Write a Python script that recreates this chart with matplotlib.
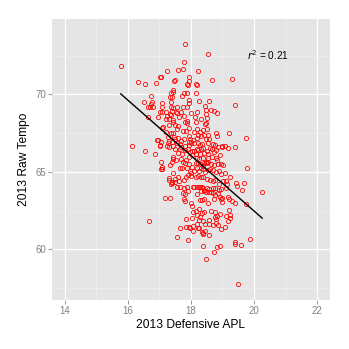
import matplotlib
matplotlib.use("Agg")
import matplotlib.pyplot as plt
import numpy as np

plt.rcParams['font.family'] = ['Liberation Sans', 'DejaVu Sans']

# defensive average possession length vs raw tempo, 2013 season
apl = [
    17.81, 18.55, 17.77, 15.78, 17.74, 17.59, 17.23, 18.24, 19.29, 17.94,
    17.02, 17.05, 17.50, 17.46, 16.32, 16.88, 16.56, 17.95, 18.68, 18.17,
    18.18, 17.92, 17.89, 17.43, 17.44, 17.38, 17.77, 17.89, 18.17, 16.75,
    17.72, 17.34, 17.39, 16.51, 16.78, 18.27, 18.59, 17.95, 19.40, 17.37,
    17.94, 17.09, 16.63, 16.71, 16.81, 16.73, 17.08, 17.38, 17.44, 17.57,
    17.75, 17.89, 18.46, 18.47, 18.63, 18.74, 18.82, 17.08, 17.02, 17.20,
    17.26, 17.33, 17.37, 17.56, 17.40, 17.52, 17.61, 17.70, 17.78, 18.00,
    18.18, 18.49, 18.50, 16.63, 16.97, 17.21, 17.32, 17.43, 17.44, 17.82,
    17.89, 18.13, 18.16, 18.32, 18.49, 17.12, 17.30, 17.51, 17.60, 17.87,
    18.46, 18.50, 17.10, 17.20, 17.38, 17.45, 17.57, 17.74, 17.86, 17.95,
    18.10, 18.20, 18.30, 18.40, 18.24, 18.33, 18.41, 18.53, 18.80, 18.84,
    19.22, 19.74, 17.28, 17.46, 17.50, 17.60, 17.77, 17.94, 17.98, 18.06,
    18.21, 18.48, 18.58, 17.29, 17.31, 17.40, 17.56, 17.65, 17.70, 17.83,
    17.93, 17.93, 18.02, 18.11, 18.24, 18.29, 18.35, 18.55, 18.70, 18.78,
    18.98, 19.08, 19.19, 19.40, 19.00, 16.12, 16.56, 16.86, 16.94, 16.97,
    17.03, 17.05, 17.01, 17.25, 17.31, 17.45, 17.49, 17.66, 17.70, 17.82,
    17.90, 17.97, 18.03, 18.10, 18.19, 18.24, 18.32, 18.40, 18.41, 18.52,
    18.60, 18.66, 18.73, 18.80, 18.87, 18.92, 18.55, 18.29, 18.15, 17.94,
    18.04, 18.18, 18.27, 18.39, 18.47, 18.55, 18.68, 18.79, 18.84, 18.85,
    17.60, 17.72, 17.44, 17.44, 17.52, 17.41, 17.70, 17.74, 17.81, 17.86,
    17.94, 18.03, 18.16, 18.24, 18.32, 18.41, 18.50, 18.55, 18.65, 18.72,
    18.97, 19.02, 17.07, 17.08, 17.05, 17.10, 17.33, 17.45, 17.65, 17.71,
    17.87, 17.96, 18.00, 18.10, 18.18, 18.25, 18.31, 18.37, 18.40, 18.46,
    18.55, 18.61, 18.70, 18.81, 18.90, 18.95, 19.09, 19.78, 17.32, 17.30,
    17.41, 17.51, 17.59, 17.64, 17.77, 17.84, 17.90, 18.00, 18.17, 18.24,
    18.33, 18.39, 18.50, 18.60, 18.70, 18.77, 18.88, 19.02, 19.13, 19.23,
    19.42, 19.45, 19.69, 17.37, 17.40, 17.50, 17.56, 17.65, 17.77, 17.89,
    18.08, 18.11, 18.19, 18.25, 18.30, 18.34, 18.40, 18.43, 18.50, 18.57,
    18.63, 18.71, 18.78, 18.88, 18.97, 19.11, 19.14, 19.62, 17.74, 17.81,
    17.92, 18.18, 18.33, 18.41, 18.47, 18.59, 18.71, 18.78, 18.85, 18.91,
    18.99, 19.19, 19.20, 19.29, 19.40, 20.26, 17.17, 17.33, 17.79, 17.83,
    18.29, 18.34, 18.42, 18.54, 18.94, 18.98, 18.72, 19.76, 18.01, 18.03,
    18.07, 18.17, 18.27, 18.34, 18.42, 18.63, 18.78, 18.84, 18.93, 19.13,
    19.21, 19.24, 17.86, 18.03, 18.19, 18.25, 18.30, 18.39, 18.57, 18.76,
    18.81, 19.24, 19.17, 16.67, 18.19, 18.23, 18.07, 17.96, 18.07, 18.26,
    18.44, 18.57, 18.69, 18.79, 18.87, 19.09, 17.67, 17.84, 17.94, 18.34,
    18.39, 18.44, 18.95, 17.56, 17.90, 18.38, 18.58, 19.39, 19.41, 19.59,
    19.89, 18.37, 18.84, 18.92, 18.73, 18.49, 19.48,
]
tempo = [
    73.27, 72.62, 72.09, 71.85, 71.66, 71.59, 71.53, 71.53, 70.99, 71.12,
    71.10, 71.10, 70.92, 70.86, 70.77, 70.73, 70.69, 70.88, 70.90, 70.67,
    70.58, 70.60, 70.65, 70.28, 70.17, 70.06, 70.06, 70.06, 70.06, 69.87,
    69.87, 69.85, 69.85, 69.51, 69.51, 69.59, 69.59, 69.63, 69.33, 69.53,
    69.46, 69.42, 69.20, 69.20, 69.18, 69.35, 69.20, 69.20, 69.12, 69.16,
    69.16, 69.20, 69.25, 68.99, 68.97, 68.92, 68.82, 68.84, 68.84, 68.84,
    68.62, 68.75, 68.67, 68.77, 68.95, 68.84, 68.56, 68.84, 68.58, 68.80,
    68.84, 68.73, 68.45, 68.52, 68.56, 68.39, 68.41, 68.34, 68.19, 68.24,
    68.30, 68.52, 68.24, 68.39, 68.17, 67.87, 68.02, 68.02, 67.98, 68.13,
    68.09, 67.76, 67.81, 67.57, 67.53, 67.48, 67.74, 67.63, 67.66, 67.81,
    67.59, 67.74, 67.59, 67.70, 67.38, 67.31, 67.38, 67.38, 67.48, 67.33,
    67.51, 67.20, 67.27, 67.27, 67.10, 67.16, 67.10, 67.33, 67.14, 67.05,
    67.16, 67.10, 67.14, 66.84, 66.99, 66.92, 66.88, 66.80, 66.99, 66.67,
    66.75, 66.92, 66.88, 66.88, 66.88, 66.73, 66.80, 66.84, 66.80, 66.73,
    66.69, 66.67, 66.52, 66.58, 66.62, 66.65, 66.37, 66.15, 67.05, 67.03,
    66.67, 66.90, 66.73, 66.69, 66.62, 66.69, 66.49, 66.47, 66.62, 66.43,
    66.47, 66.28, 66.37, 66.32, 66.47, 66.43, 66.45, 66.54, 66.24, 66.37,
    66.52, 66.47, 66.30, 66.41, 66.58, 66.09, 66.15, 66.15, 66.15, 65.98,
    66.06, 65.87, 65.85, 65.87, 65.66, 65.87, 65.98, 65.91, 65.76, 65.48,
    66.19, 66.15, 65.96, 65.81, 65.78, 65.61, 65.81, 65.61, 65.55, 65.76,
    65.48, 65.33, 65.59, 65.59, 65.53, 65.59, 65.55, 65.66, 65.48, 65.46,
    65.48, 65.42, 65.63, 65.33, 65.20, 65.20, 65.42, 64.92, 65.27, 65.23,
    65.27, 65.05, 64.90, 65.08, 65.27, 65.05, 65.27, 65.16, 65.38, 65.01,
    65.12, 65.18, 65.12, 65.01, 65.05, 64.88, 64.90, 65.27, 64.58, 64.47,
    64.34, 64.52, 64.67, 64.43, 64.47, 64.67, 64.82, 64.75, 64.69, 64.75,
    64.65, 64.69, 64.54, 64.47, 64.41, 64.47, 64.19, 64.41, 64.39, 64.69,
    64.28, 64.11, 64.30, 64.19, 64.28, 64.37, 64.04, 64.02, 63.94, 64.04,
    64.00, 64.04, 64.04, 64.00, 64.04, 64.04, 63.98, 63.83, 63.98, 63.89,
    63.72, 63.96, 63.94, 63.83, 63.87, 63.94, 64.19, 63.81, 63.61, 63.57,
    63.74, 63.55, 63.76, 63.76, 63.72, 63.70, 63.63, 63.48, 63.61, 63.40,
    63.33, 63.40, 63.23, 63.10, 63.01, 63.68, 63.33, 63.33, 63.25, 63.12,
    63.16, 63.18, 63.23, 62.97, 63.25, 63.08, 63.27, 62.95, 62.97, 62.77,
    62.43, 62.49, 62.58, 62.32, 62.39, 62.45, 62.39, 62.17, 62.26, 62.15,
    62.54, 62.22, 61.96, 62.02, 62.24, 61.89, 62.11, 61.81, 61.89, 62.09,
    61.98, 62.02, 61.85, 61.83, 61.63, 61.40, 61.53, 61.38, 61.20, 61.35,
    61.61, 61.63, 61.57, 61.72, 61.59, 61.44, 61.38, 61.42, 61.44, 61.10,
    61.03, 61.18, 61.31, 60.80, 60.62, 60.99, 60.92, 60.45, 60.37, 60.28,
    60.67, 60.19, 60.17, 60.22, 59.81, 59.40, 57.74,
]
r2_label = r'$r^2$ = 0.21'

x = np.array(apl)
y = np.array(tempo)

fig = plt.figure(figsize=(349 / 72, 349 / 72), dpi=72, facecolor='white')
ax = fig.add_axes([52 / 349, 49 / 349, 278 / 349, 281 / 349])
ax.set_facecolor('#E5E5E5')

ax.set_xlim(13.6, 22.41)
ax.set_ylim(56.73, 74.86)
ax.set_xticks([14, 16, 18, 20, 22])
ax.set_yticks([60, 65, 70])
ax.set_xticks([15, 17, 19, 21], minor=True)
ax.set_yticks([57.5, 62.5, 67.5, 72.5], minor=True)
ax.grid(which='major', color='white', lw=1.3)
ax.grid(which='minor', color='#F2F2F2', lw=0.6)
ax.set_axisbelow(True)
for s in ax.spines.values():
    s.set_visible(False)
ax.tick_params(which='major', length=4, width=0.8, color='#7F7F7F',
               labelcolor='#7F7F7F', labelsize=9.6, pad=2)
ax.tick_params(which='minor', length=0)

ax.plot(x, y, 'o', mfc='none', mec='red', ms=4.2, mew=0.8)

# least squares fit over the data range
b, a = np.polyfit(x, y, 1)
xs = np.array([x.min(), x.max()])
ax.plot(xs, a + b * xs, color='black', lw=1.4)

ax.text(20.45, 72.55, r2_label, ha='center', va='center', fontsize=10)

ax.set_xlabel('2013 Defensive APL', fontsize=12, labelpad=3)
ax.set_ylabel('2013 Raw Tempo', fontsize=12, labelpad=5)

fig.savefig('out.png', dpi=72)
